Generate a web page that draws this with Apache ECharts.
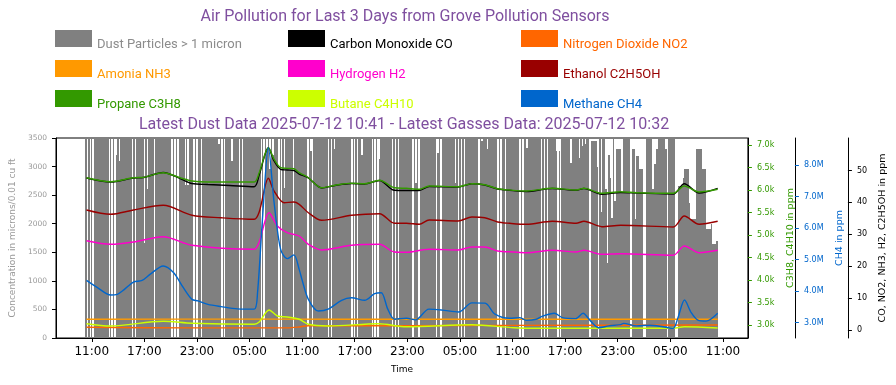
<!DOCTYPE html>
<html><head><meta charset="utf-8">
<script src="https://cdn.jsdelivr.net/npm/echarts@6/dist/echarts.min.js"></script>
<style>html,body{margin:0;padding:0;background:#fff}#c{width:896px;height:385px}</style>
</head><body><div id="c"></div>
<script>
const titleText = 'Air Pollution for Last 3 Days from Grove Pollution Sensors';
const subtitleText = 'Latest Dust Data 2025-07-12 10:41 - Latest Gasses Data: 2025-07-12 10:32';
const xTickHours = [11,17,23,29,35,41,47,53,59,65,71,77,83];
const xTickLabels = ['11:00','17:00','23:00','05:00','11:00','17:00','23:00','05:00','11:00','17:00','23:00','05:00','11:00'];
const greenTicks = [3000,3500,4000,4500,5000,5500,6000,6500,7000];
const greenTickLabels = ['3.0k','3.5k','4.0k','4.5k','5.0k','5.5k','6.0k','6.5k','7.0k'];
const blueTicks = [3e6,4e6,5e6,6e6,7e6,8e6];
const blueTickLabels = ['3.0M','4.0M','5.0M','6.0M','7.0M','8.0M'];
const blackTicks = [0,10,20,30,40,50];

// dust readings every 10 minutes starting 10:20 on day 1 (hours since day-1 midnight); null = missing reading
const dustStartHour = 10 + 20/60;
const dustStepHours = 1/6;
const dust = [
3600,null,3600,null,3600,null,3600,3600,3600,3600,3600,3600,3600,3600,3600,3600,null,3600,null,3600,null,3210,3600,3100,3600,3600,3600,3600,3600,3600,3600,3600,null,3600,null,3600,
3600,3600,3600,3600,1670,3600,2610,3600,3600,3600,3600,null,3600,3600,3600,3600,3600,3600,3600,3600,3600,3600,3600,null,3600,null,3600,null,3600,3600,3600,3600,2670,3600,2670,3600,
3600,3600,null,3600,null,3600,3600,null,3600,3600,3600,3600,3600,3600,3600,3600,3600,3600,3600,3400,3600,null,3600,null,3600,3600,3600,3600,3100,3600,3600,3600,3600,null,3600,null,
3600,3600,3600,3600,3600,3600,3600,3600,3600,3600,3600,3600,null,3600,null,3600,3300,3600,2960,3600,3200,3600,3600,3600,null,3600,null,3600,2620,3600,3600,3600,3600,3600,null,3600,
3600,3600,3600,3600,3600,3600,3600,3600,null,3600,3270,null,3600,3600,3600,3600,3600,3600,3600,3600,3600,3600,null,3600,null,3600,3300,3600,3600,3600,3600,3600,3600,3600,3600,3600,
3600,3600,null,3600,null,3600,null,3600,3600,3200,3600,3600,3600,3600,3600,3600,null,3600,null,3600,null,3130,3600,3600,3600,3600,3600,3600,3600,3600,null,3600,null,3600,null,3600,
3600,3600,3600,3600,3600,3600,3600,3600,null,3600,2720,3600,null,3600,3600,3600,3600,3600,3600,3600,3600,3600,3600,3600,null,3240,3600,null,3600,3600,3600,3600,3600,3600,3600,3600,
3600,2720,3600,null,3600,null,3600,null,3600,3600,3600,3600,3600,3600,3600,3600,3600,null,3600,3450,3600,3600,3600,3310,3600,3600,3600,3600,3600,3600,null,3600,null,3600,3600,null,
3600,3600,3600,3600,3600,3600,3600,3600,3600,null,3600,null,3600,3600,3320,3600,3600,3600,3600,3600,3600,3600,3600,3600,null,3600,null,3600,null,3600,3600,3600,3600,3600,3270,null,
3270,null,3600,3600,3600,3600,3600,3600,3070,3600,3600,3600,3600,3600,3150,3600,3360,3600,3400,3600,3600,null,3450,3450,3450,3450,3000,null,3480,2200,3480,3480,2600,1320,3200,2800,
2100,3480,2400,3300,3300,3300,3300,2540,3480,3480,3480,3480,3480,null,3300,3300,2080,3180,3180,2950,2950,2950,null,null,3480,3480,3480,3480,2600,3040,3040,3300,3480,3480,3480,3480,
3480,3300,null,3480,3480,3480,3480,3480,null,null,2660,2660,2660,2800,2950,2950,2950,2370,2080,2080,2080,2080,3300,3300,3300,3300,2950,2950,2950,1900,1900,1900,2000,1650,1650,1650,
1700
];

// gas readings: [hour since day-1 midnight, value in ppm]
const co = [[10.4,47.65],[13.15,46.39],[15.75,47.65],[16.89,47.81],[19.15,49.37],[21.08,47.49],[22.43,45.92],[24.25,45.61],[26.74,45.3],[29.53,44.92],[30.1,48.59],[31.15,57.15],[31.8,52.98],[32.54,50.38],[33.3,50.16],[34.06,50.0],[34.66,48.9],[35.71,47.65],[37.23,44.51],[38.74,45.3],[40.63,45.92],[42.13,45.77],[43.83,46.87],[45.53,43.79],[46.89,43.73],[48.36,43.73],[49.49,44.98],[52.78,44.83],[54.36,45.86],[55.83,45.45],[57.3,44.2],[58.66,43.79],[60.59,43.42],[63.53,44.36],[66.25,43.79],[67.15,44.36],[69.19,42.54],[71.34,43.1],[73.15,42.95],[77.34,42.63],[78.59,45.86],[80.28,42.95],[82.4,44.42]];
const no2 = [[10.4,0.85],[22.43,0.66],[33.3,0.66],[34.5,0.9],[35.71,1.35],[46.89,1.35],[58.66,1.45],[82.4,1.55]];
const nh3 = [[10.4,3.38],[31.0,3.42],[50.0,3.35],[82.4,3.35]];
const hydrogen = [[10.4,27.99],[13.15,26.87],[15.75,27.59],[19.15,29.25],[22.43,26.55],[29.53,25.3],[30.1,27.59],[31.23,36.77],[32.17,32.6],[33.3,30.5],[34.66,29.47],[35.71,26.87],[37.23,25.08],[40.63,26.55],[43.83,26.87],[45.53,24.45],[46.89,24.36],[49.49,25.3],[52.78,25.08],[54.36,26.02],[55.83,26.02],[57.3,24.76],[59.11,24.45],[60.59,24.23],[63.53,24.98],[66.25,24.45],[67.15,24.98],[69.19,23.73],[71.34,23.92],[77.34,23.42],[78.59,26.33],[80.28,24.23],[82.4,24.98]];
const ethanol = [[10.4,37.62],[13.15,36.27],[15.75,37.62],[19.15,39.09],[22.43,35.96],[25.75,35.2],[29.53,34.7],[30.1,36.99],[31.15,47.55],[31.8,43.57],[32.93,39.91],[34.06,40.13],[34.66,39.4],[35.71,36.77],[37.23,34.39],[40.63,35.96],[43.83,36.46],[45.53,33.45],[46.89,33.45],[48.36,33.13],[49.49,34.48],[52.78,34.17],[54.36,35.42],[55.83,35.2],[57.3,33.86],[58.66,33.45],[60.59,33.13],[63.53,34.08],[66.25,33.45],[67.15,34.08],[69.19,32.38],[71.34,32.82],[77.34,32.29],[78.59,35.74],[80.28,33.13],[82.4,34.08]];
const propane = [[10.4,6273],[13.15,6185],[15.75,6273],[16.89,6282],[19.15,6385],[21.08,6273],[22.43,6200],[24.25,6178],[29.53,6178],[30.1,6385],[31.15,6940],[31.8,6682],[32.54,6496],[33.3,6482],[34.06,6473],[34.66,6385],[35.71,6273],[37.23,6051],[38.74,6105],[40.63,6149],[42.13,6140],[43.83,6216],[45.53,6051],[46.89,6038],[48.36,6016],[49.49,6089],[52.78,6073],[54.36,6140],[55.83,6118],[57.3,6029],[58.66,6000],[60.59,5978],[63.53,6038],[66.25,6000],[67.15,6038],[69.19,5927],[71.34,5962],[73.15,5940],[77.34,5927],[78.59,6089],[80.28,5956],[82.4,6016]];
const butane = [[10.4,3029],[13.15,2978],[19.15,3083],[22.43,3038],[29.53,3016],[30.1,3067],[31.23,3334],[32.17,3200],[33.3,3178],[34.66,3127],[35.71,3016],[37.94,2978],[43.72,3029],[46.89,2962],[54.36,3007],[59.11,2940],[61.83,2927],[68.62,2927],[77.34,2927],[78.59,2962],[82.4,2934]];
const methane = [[10.4,4.34e6],[11.65,4.11e6],[13.15,3.88e6],[13.91,3.9e6],[14.66,4.04e6],[15.75,4.29e6],[16.74,4.34e6],[17.68,4.54e6],[19.15,4.8e6],[20.32,4.59e6],[21.45,4.11e6],[22.43,3.74e6],[23.11,3.69e6],[24.25,3.58e6],[25.75,3.51e6],[27.64,3.44e6],[29.53,3.43e6],[29.91,3.95e6],[30.47,6.28e6],[31.15,8.55e6],[31.8,6.81e6],[32.54,5.33e6],[33.3,5.03e6],[34.06,5.15e6],[34.66,4.69e6],[34.97,4.38e6],[35.71,3.74e6],[36.85,3.37e6],[37.98,3.43e6],[39.5,3.71e6],[40.63,3.79e6],[42.13,3.71e6],[43.27,3.92e6],[44.02,3.95e6],[44.77,3.43e6],[45.53,3.11e6],[46.89,3.14e6],[47.94,3.09e6],[49.46,3.43e6],[50.96,3.4e6],[52.85,3.34e6],[54.36,3.63e6],[55.87,3.62e6],[57.0,3.27e6],[58.66,3.14e6],[59.79,3.16e6],[60.55,3.08e6],[61.69,3.11e6],[62.43,3.21e6],[63.76,3.3e6],[64.7,3.16e6],[66.21,3.13e6],[67.04,3.3e6],[67.91,3.05e6],[68.85,2.84e6],[69.98,2.9e6],[71.34,2.94e6],[71.65,2.98e6],[73.15,2.9e6],[74.66,2.92e6],[76.17,2.87e6],[77.31,2.82e6],[77.87,3.16e6],[78.62,3.72e6],[79.38,3.32e6],[80.14,3.08e6],[81.07,3.05e6],[82.4,3.3e6]];

const names = {
  dust:'Dust Particles > 1 micron', co:'Carbon Monoxide CO', no2:'Nitrogen Dioxide NO2',
  nh3:'Amonia NH3', h2:'Hydrogen H2', eth:'Ethanol C2H5OH',
  c3:'Propane C3H8', c4:'Butane C4H10', ch4:'Methane CH4'
};
const colors = {
  dust:'#808080', co:'#000000', no2:'#ff6600', nh3:'#ff9900', h2:'#ff00cc',
  eth:'#990000', c3:'#339900', c4:'#ccff00', ch4:'#0066cc'
};
const textColors = Object.assign({}, colors, {dust:'#8c8c8c'});
const legendLayout = [['dust','co','no2'],['nh3','h2','eth'],['c3','c4','ch4']];

const FT = "Roboto, sans-serif";
const FA = "'DejaVu Sans', sans-serif";

const dustData = [];
dust.forEach((v, i) => { if (v !== null) dustData.push([dustStartHour + i * dustStepHours, v]); });

function line(key, data, yIdx, z) {
  return {
    name: names[key], type: 'line', data: data, yAxisIndex: yIdx, color: colors[key],
    showSymbol: false, symbol: 'none', smooth: 0.3, z: z,
    lineStyle: { width: 1.4, color: colors[key] }, itemStyle: { color: colors[key] }
  };
}
function rightAxis(offset, min, max, ticks, labels, color, name, gap) {
  return {
    type: 'value', position: 'right', offset: offset, min: min, max: max,
    axisLine: { show: true, onZero: false, lineStyle: { color: '#000', width: 1 } },
    axisTick: { show: true, length: 4, customValues: ticks, lineStyle: { color: color } },
    axisLabel: { customValues: ticks, margin: 9, fontSize: 8, fontFamily: FA, color: color,
      formatter: v => { const k = ticks.indexOf(v); return k >= 0 ? labels[k] : ''; } },
    splitLine: { show: false },
    name: name, nameLocation: 'middle', nameRotate: 90, nameGap: gap,
    nameTextStyle: { fontSize: 9.5, fontFamily: FA, color: color }
  };
}

// legend drawn as graphic swatches + real text labels, in a 3 x 3 layout
const legendGraphics = [];
const colX = [55, 288, 521], rowY = [30, 60, 90];
legendLayout.forEach((row, r) => row.forEach((key, c) => {
  legendGraphics.push({ type: 'rect', shape: { x: colX[c], y: rowY[r], width: 37, height: 17 }, style: { fill: colors[key] }, silent: true });
  legendGraphics.push({ type: 'text', x: colX[c] + 42, y: rowY[r] + 14.5, silent: true,
    style: { text: names[key], fill: textColors[key], font: '13px ' + FT, align: 'left', verticalAlign: 'middle' } });
}));

const chart = echarts.init(document.getElementById('c'), null, { renderer: 'canvas', width: 896, height: 385 });
chart.setOption({
  animation: false,
  backgroundColor: '#ffffff',
  graphic: [
    { type: 'text', x: 405, y: 17, style: { text: titleText, fill: '#7f4f9f', font: '16px ' + FT, align: 'center', verticalAlign: 'middle' } },
    { type: 'text', x: 404, y: 125, style: { text: subtitleText, fill: '#7f4f9f', font: '16px ' + FT, align: 'center', verticalAlign: 'middle' } }
  ].concat(legendGraphics),
  grid: { left: 55, right: 144, top: 138, bottom: 47, show: true, borderColor: '#000', borderWidth: 1, backgroundColor: 'transparent' },
  xAxis: {
    type: 'value', min: 6.92, max: 85.85,
    axisLine: { show: true, onZero: false, lineStyle: { color: '#000' } },
    axisTick: { show: true, length: 4, customValues: xTickHours, lineStyle: { color: '#000' } },
    axisLabel: { customValues: xTickHours, margin: 8, fontSize: 12, fontFamily: FA, color: '#000',
      formatter: v => { const k = xTickHours.indexOf(Math.round(v)); return k >= 0 ? xTickLabels[k] : ''; } },
    splitLine: { show: false },
    name: 'Time', nameLocation: 'middle', nameGap: 27, nameTextStyle: { fontSize: 9, fontFamily: FA, color: '#000' }
  },
  yAxis: [
    {
      type: 'value', position: 'left', min: 0, max: 3500, interval: 500,
      axisLine: { show: true, onZero: false, lineStyle: { color: '#000' } },
      axisTick: { show: true, length: 4, lineStyle: { color: '#000' } },
      axisLabel: { margin: 9, fontSize: 7.5, fontFamily: FA, color: '#999', formatter: v => String(v) },
      splitLine: { show: false },
      name: 'Concentration in microns/0.01 cu ft', nameLocation: 'middle', nameRotate: 90, nameGap: 38,
      nameTextStyle: { fontSize: 9, fontFamily: FA, color: '#999' }
    },
    rightAxis(0, 2711, 7156, greenTicks, greenTickLabels, '#339900', 'C3H8, C4H10 in ppm', 31),
    rightAxis(47, 2.515e6, 8.856e6, blueTicks, blueTickLabels, '#0066cc', 'CH4 in ppm', 34),
    rightAxis(100, -2.51, 60.19, blackTicks, blackTicks.map(String), '#000000', 'CO, NO2, NH3, H2, C2H5OH in ppm', 25)
  ],
  series: [
    { name: names.dust, type: 'custom', data: dustData, yAxisIndex: 0, clip: true, z: 1,
      encode: { x: 0, y: 1 },
      renderItem: (params, api) => {
        const t = api.value(0), v = api.value(1);
        const a = api.coord([t - dustStepHours / 2, 0]);
        const b = api.coord([t + dustStepHours / 2, v]);
        const x0 = Math.round(a[0]), x1 = Math.round(b[0]);
        const top = Math.round(Math.max(b[1], params.coordSys.y));
        return { type: 'rect', shape: { x: x0, y: top, width: Math.max(1, x1 - x0), height: a[1] - top },
          style: { fill: colors.dust } };
      } },
    line('co', co, 3, 3),
    line('no2', no2, 3, 3),
    line('nh3', nh3, 3, 3),
    line('h2', hydrogen, 3, 3),
    line('eth', ethanol, 3, 3),
    line('c3', propane, 1, 4),
    line('c4', butane, 1, 4),
    line('ch4', methane, 2, 5)
  ]
});
</script>
</body></html>
